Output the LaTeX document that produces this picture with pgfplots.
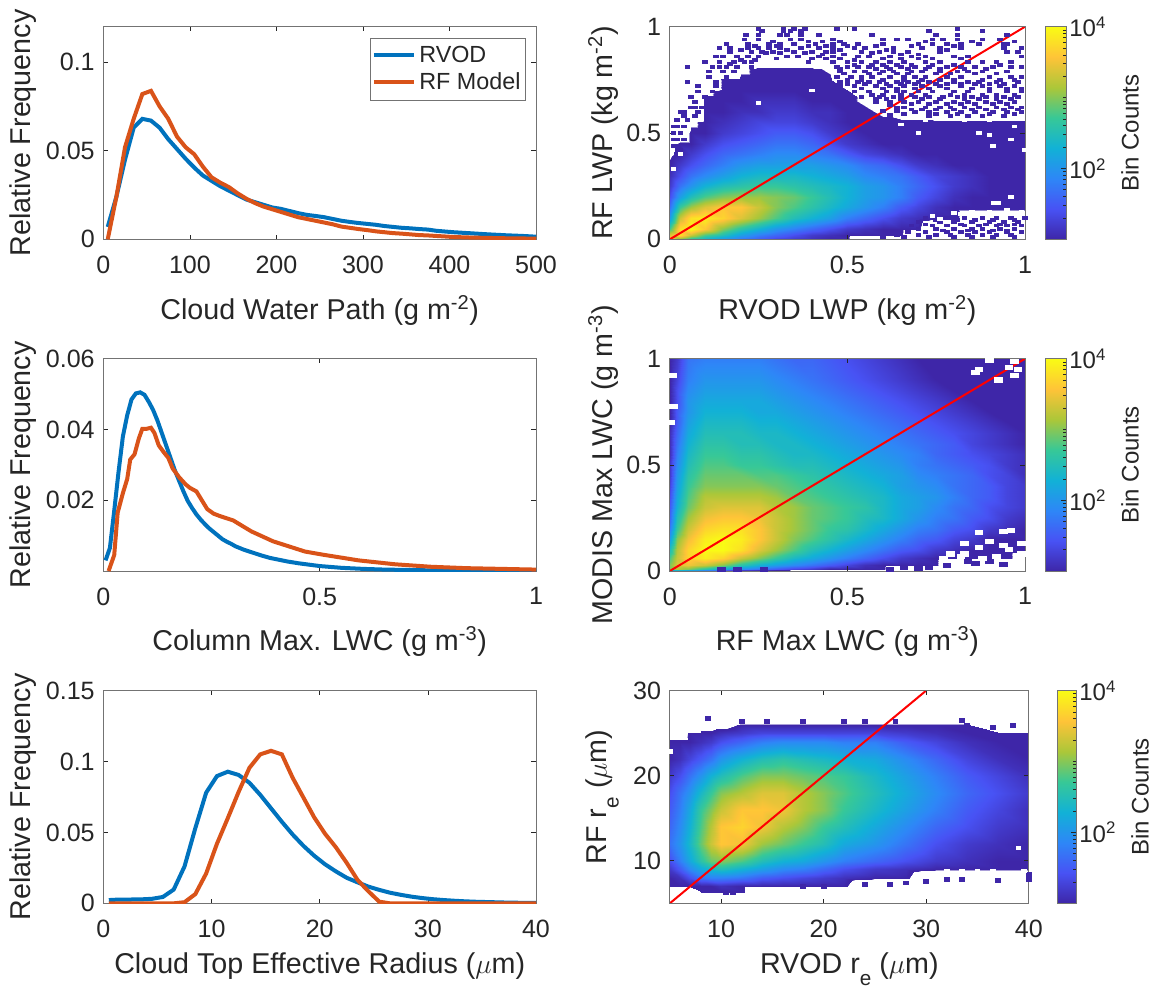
\documentclass[border=0pt]{standalone}
\usepackage{pgfplots}
\pgfplotsset{compat=1.18}
\usepackage{fontspec}
\setmainfont{Liberation Sans}
\definecolor{tc}{gray}{0.15}
\definecolor{ac}{gray}{0.45}
\definecolor{mb}{rgb}{0,0.447,0.741}
\definecolor{mr}{rgb}{0.851,0.325,0.098}
\definecolor{pa}{rgb}{0.2422,0.1504,0.6603}
\pgfplotsset{
 colormap={parw}{rgb(0cm)=(1,1,1); rgb(9.4cm)=(1,1,1); rgb(9.5cm)=(0.2422,0.1504,0.6603); rgb(10cm)=(0.2422,0.1504,0.6603);
  rgb(14.286cm)=(0.2810,0.3228,0.9579); rgb(18.571cm)=(0.1786,0.5289,0.9682); rgb(22.857cm)=(0.0689,0.6948,0.8394);
  rgb(27.143cm)=(0.2161,0.7843,0.5923); rgb(31.429cm)=(0.6720,0.7793,0.2227); rgb(35.714cm)=(0.9970,0.7659,0.2199); rgb(40cm)=(0.9769,0.9839,0.0805)},
 base/.style={scale only axis, axis line style={ac,line width=0.6pt}, tick style={tc,line width=0.5pt}, tick align=inside, major tick length=3.5pt,
  /pgf/number format/assume math mode=true, /pgf/number format/fixed, scaled y ticks=false,
  ticklabel style={font=\fontsize{18.8}{20}\selectfont, text=tc},
  xticklabel style={yshift=-9pt}, yticklabel style={xshift=-3pt},
  label style={font=\fontsize{21.5}{24}\selectfont, text=tc, inner sep=0pt},
  xtick pos=both,ytick pos=both},
 hm/.style={base, colormap name=parw, point meta min=0, point meta max=40, axis on top},
 cbarax/.style={hm,anchor=south west,xmin=0,xmax=1,ymin=10,ymax=10000,xtick=\empty,ytick={100,10000},yticklabels={10\textsuperscript{2},10\textsuperscript{4}},minor ytick={20,30,40,50,60,70,80,90,200,300,400,500,600,700,800,900,1000,2000,3000,4000,5000,6000,7000,8000,9000},ytick pos=right,yticklabel pos=right,yticklabel style={xshift=2pt,font=\fontsize{18}{20}\selectfont},minor tick length=2pt,
 ylabel={Bin Counts},ylabel style={at={(axis description cs:1,0.5)},anchor=center,rotate=0,yshift=-48pt,font=\fontsize{18}{20}\selectfont}},
 xl/.style={xlabel style={at={(axis description cs:0.5,0)},anchor=center,yshift=#1}},
 yl/.style={ylabel style={at={(axis description cs:0,0.5)},anchor=center,yshift=#1}},
 lp/.style={mark=none,line width=3pt,#1},
 sp/.style={pa,only marks,mark=square*,mark size=#1,mark options={draw=pa,fill=pa,line width=0pt,xscale=1.75}},
 wp/.style={white,only marks,mark=square*,mark size=#1,mark options={draw=white,fill=white,line width=0pt,xscale=1.75}},
}
\newcommand\subE{\smash{\raisebox{-0.42em}{\fontsize{15.5}{16}\selectfont e}}}
\begin{document}
\begin{tikzpicture}
\useasboundingbox (0,0) rectangle (863.25pt,739.5pt);
\begin{axis}[base,at={(77.55pt,560pt)},anchor=south west,width=324.45pt,height=159.45pt,
 xmin=0,xmax=500,ymin=0,ymax=0.12,xtick={0,100,200,300,400,500},ytick={0,0.05,0.1},
 yticklabels={0,0.05,0.1},
 xlabel={Cloud Water Path (g m\textsuperscript{-2})},xl=-53pt,
 ylabel={Relative Frequency},yl=60pt,
 legend style={at={(0.9755,0.948)},anchor=north east,draw=ac,font=\fontsize{17.5}{20}\selectfont,text=tc,inner xsep=1pt,inner ysep=4pt,row sep=2.5pt,nodes={inner xsep=2.5pt}},legend cell align=left,
 legend image code/.code={\draw[#1,mark=none](0pt,0pt)--(30pt,0pt);}]
\addplot[lp=mb] coordinates {(5,.007)(15,.024)(25,.045)(35,.063)(45,.068)(55,.067)(65,.063)(75,.0565)(85,.051)(95,.0455)(105,.0405)(115,.036)(125,.033)(135,.03)(145,.0275)(155,.025)(165,.0225)(175,.021)(185,.0195)(195,.018)(205,.0172)(215,.016)(225,.0148)(235,.0138)(245,.0132)(255,.0125)(265,.0115)(275,.0105)(285,.0098)(295,.0092)(305,.0087)(315,.0082)(325,.0075)(335,.007)(345,.0065)(355,.0062)(365,.0058)(375,.0055)(385,.0048)(395,.0044)(405,.004)(425,.0034)(445,.0028)(465,.0023)(485,.0019)(500,.0015)};
\addplot[lp=mr] coordinates {(5,0)(15,.024)(25,.052)(35,.068)(45,.082)(55,.0838)(65,.075)(75,.068)(85,.058)(95,.052)(105,.048)(115,.041)(125,.035)(135,.032)(145,.0295)(155,.026)(165,.023)(175,.0205)(185,.0185)(195,.017)(205,.0155)(215,.014)(225,.0125)(235,.0115)(245,.0105)(255,.0095)(265,.0085)(275,.0072)(285,.0065)(295,.0058)(305,.0052)(315,.0045)(325,.004)(335,.0035)(345,.0032)(355,.0028)(365,.0024)(375,.0022)(385,.0019)(395,.0016)(405,.0013)(425,.001)(445,.0008)(465,.0006)(500,.0004)};
\legend{RVOD,RF Model}
\end{axis}
\begin{axis}[base,at={(77.55pt,311.25pt)},anchor=south west,width=324.45pt,height=159.2pt,
 xmin=0,xmax=1,ymin=0,ymax=0.06,xtick={0,0.5,1},ytick={0.02,0.04,0.06},xticklabels={0,0.5,1},yticklabels={0.02,0.04,0.06},
 xlabel={Column Max. LWC (g m\textsuperscript{-3})},xl=-53pt,
 ylabel={Relative Frequency},yl=60pt]
\addplot[lp=mb] coordinates {(.005,.003)(.015,.0065)(.025,.017)(.035,.028)(.045,.038)(.055,.044)(.065,.0485)(.075,.0502)(.085,.0505)(.095,.0498)(.105,.0478)(.115,.0455)(.125,.0425)(.135,.039)(.145,.0355)(.155,.032)(.165,.0285)(.175,.0255)(.185,.0225)(.195,.0198)(.205,.0178)(.215,.016)(.225,.0145)(.235,.0132)(.245,.012)(.255,.011)(.265,.01)(.275,.009)(.285,.0083)(.295,.0077)(.305,.007)(.325,.006)(.345,.0052)(.365,.0044)(.385,.0037)(.405,.0032)(.425,.0027)(.45,.0022)(.475,.0018)(.5,.0014)(.55,.0009)(.6,.0006)(.65,.0004)(.7,.0003)(.8,.0001)(1,0)};
\addplot[lp=mr] coordinates {(.012,0)(.025,.0045)(.033,.0165)(.045,.022)(.055,.026)(.062,.0315)(.072,.033)(.082,.0375)(.09,.0402)(.1,.0402)(.11,.0405)(.118,.039)(.128,.0355)(.14,.0335)(.15,.032)(.16,.029)(.175,.0265)(.19,.0245)(.2,.0235)(.215,.0225)(.225,.0205)(.24,.0175)(.255,.0162)(.27,.0155)(.3,.0143)(.342,.0112)(.392,.0084)(.466,.0055)(.508,.0046)(.59,.003)(.674,.0019)(.757,.0012)(.84,.0008)(1,.0004)};
\end{axis}
\begin{axis}[base,at={(77.55pt,62pt)},anchor=south west,width=324.45pt,height=159.6pt,
 xmin=0,xmax=40,ymin=0,ymax=0.15,xtick={0,10,20,30,40},ytick={0,0.05,0.1,0.15},yticklabels={0,0.05,0.1,0.15},
 xlabel={Cloud Top Effective Radius ($\mu$m)},xl=-47pt,
 ylabel={Relative Frequency},yl=60pt]
\addplot[lp=mb] coordinates {(.5,.0023)(1.5,.0027)(2.5,.0027)(3.5,.0028)(4.5,.0032)(5.5,.0045)(6.5,.0097)(7.5,.026)(8.5,.053)(9.5,.078)(10.5,.0897)(11.5,.0928)(12.5,.0905)(13.5,.085)(14.5,.0765)(15.5,.067)(16.5,.0575)(17.5,.0485)(18.5,.0405)(19.5,.0335)(20.5,.0275)(21.5,.0225)(22.5,.018)(23.5,.0148)(24.5,.0118)(25.5,.0095)(26.5,.0075)(27.5,.006)(28.5,.0047)(29.5,.0037)(30.5,.0029)(31.5,.0023)(32.5,.0018)(33.5,.0014)(34.5,.0011)(35.5,.0009)(36.5,.0007)(37.5,.0005)(38.5,.0004)(40,.0003)};
\addplot[lp=mr] coordinates {(.5,0)(6.5,0)(7.5,.0008)(8.5,.0065)(9.5,.021)(10.5,.042)(11.5,.06)(12.5,.0785)(13.5,.0955)(14.5,.105)(15.5,.1075)(16.5,.105)(17.5,.0885)(18.5,.0745)(19.5,.0605)(20.5,.049)(21.5,.0395)(22.5,.0285)(23.5,.0165)(24.5,.0085)(25.5,.0012)(26.5,0)(40,0)};
\end{axis}
% ---- panel 2: x,y in 0.01 kg m-2, meta = 10 log10(count)
\begin{axis}[hm,at={(502.35pt,560pt)},anchor=south west,width=266.4pt,height=159.45pt,xmin=0,xmax=100,ymin=0,ymax=100,xtick={0,50,100},xticklabels={0,0.5,1},ytick={0,50,100},yticklabels={0,0.5,1},
 xlabel={RVOD LWP (kg m\textsuperscript{-2})},xl=-53pt,
 ylabel={RF LWP (kg m\textsuperscript{-2})},yl=50pt]
\addplot[surf,shader=interp,mesh/rows=20,point meta=explicit] table[meta=c]{
x y c
0 0 38
3 0 30
6 0 26
10 0 23
15 0 20
20 0 17
25 0 15
30 0 13
35 0 12
40 0 11
45 0 10
50 0 10
55 0 5
60 0 5
65 0 5
70 0 5
75 0 5
80 0 5
85 0 5
90 0 5
95 0 5
100 0 5
0 2 34
3 2 38
6 2 33
10 2 28
15 2 25
20 2 21
25 2 18
30 2 16
35 2 14
40 2 12
45 2 11
50 2 10
55 2 10
60 2 10
65 2 10
70 2 5
75 2 5
80 2 5
85 2 5
90 2 5
95 2 5
100 2 5
0 5 28
3 5 38
6 5 40
10 5 36
15 5 30
20 5 26
25 5 23
30 5 20
35 5 18
40 5 16
45 5 14
50 5 12
55 5 11
60 5 10
65 5 10
70 5 10
75 5 5
80 5 5
85 5 5
90 5 5
95 5 5
100 5 5
0 10 21
3 10 33
6 10 38
10 10 39
15 10 37
20 10 34
25 10 31
30 10 28
35 10 25
40 10 23
45 10 21
50 10 18
55 10 16
60 10 14
65 10 12
70 10 11
75 10 10
80 10 10
85 10 8
90 10 8
95 10 8
100 10 8
0 15 17
3 15 27
6 15 31
10 15 34
15 15 36
20 15 36
25 15 33
30 15 30
35 15 28
40 15 26
45 15 24
50 15 22
55 15 20
60 15 18
65 15 15
70 15 13
75 15 11
80 15 10
85 15 10
90 15 10
95 15 10
100 15 10
0 20 14
3 20 21
6 20 25
10 20 28
15 20 30
20 20 31
25 20 31
30 20 30
35 20 29
40 20 27
45 20 25
50 20 23
55 20 21
60 20 20
65 20 18
70 20 15
75 20 13
80 20 11
85 20 10
90 20 10
95 20 10
100 20 10
0 25 12
3 25 17
6 25 20
10 25 23
15 25 25
20 25 26
25 25 27
30 25 27
35 25 26
40 25 25
45 25 24
50 25 23
55 25 21
60 25 20
65 25 18
70 25 16
75 25 14
80 25 12
85 25 11
90 25 10
95 25 10
100 25 10
0 30 11
3 30 14
6 30 17
10 30 19
15 30 21
20 30 23
25 30 24
30 30 24
35 30 24
40 30 23
45 30 22
50 30 21
55 30 19
60 30 18
65 30 17
70 30 15
75 30 13
80 30 12
85 30 11
90 30 10
95 30 10
100 30 10
0 35 10
3 35 12
6 35 14
10 35 16
15 35 18
20 35 20
25 35 21
30 35 21
35 35 21
40 35 21
45 35 20
50 35 19
55 35 17
60 35 16
65 35 14
70 35 12
75 35 11
80 35 10
85 35 10
90 35 10
95 35 10
100 35 10
0 40 9
3 40 10
6 40 12
10 40 14
15 40 16
20 40 17
25 40 18
30 40 19
35 40 19
40 40 18
45 40 17
50 40 15
55 40 13
60 40 12
65 40 11
70 40 10
75 40 10
80 40 10
85 40 10
90 40 10
95 40 10
100 40 10
0 45 9
3 45 10
6 45 10
10 45 12
15 45 14
20 45 15
25 45 16
30 45 17
35 45 17
40 45 16
45 45 14
50 45 12
55 45 11
60 45 10
65 45 10
70 45 10
75 45 10
80 45 10
85 45 10
90 45 10
95 45 10
100 45 10
0 50 5
3 50 7
6 50 10
10 50 10
15 50 12
20 50 13
25 50 14
30 50 15
35 50 15
40 50 14
45 50 12
50 50 11
55 50 10
60 50 10
65 50 10
70 50 10
75 50 10
80 50 10
85 50 10
90 50 10
95 50 10
100 50 10
0 55 5
3 55 5
6 55 9
10 55 10
15 55 11
20 55 12
25 55 13
30 55 13
35 55 13
40 55 12
45 55 11
50 55 10
55 55 10
60 55 10
65 55 10
70 55 10
75 55 10
80 55 10
85 55 10
90 55 10
95 55 10
100 55 10
0 60 5
3 60 5
6 60 5
10 60 10
15 60 10
20 60 11
25 60 11
30 60 12
35 60 12
40 60 11
45 60 11
50 60 10
55 60 10
60 60 9
65 60 8
70 60 8
75 60 5
80 60 5
85 60 5
90 60 5
95 60 5
100 60 5
0 65 5
3 65 5
6 65 5
10 65 10
15 65 10
20 65 10
25 65 11
30 65 11
35 65 11
40 65 10
45 65 10
50 65 10
55 65 9
60 65 5
65 65 5
70 65 5
75 65 5
80 65 5
85 65 5
90 65 5
95 65 5
100 65 5
0 70 5
3 70 5
6 70 5
10 70 9
15 70 10
20 70 10
25 70 10
30 70 10
35 70 10
40 70 10
45 70 10
50 70 10
55 70 5
60 70 5
65 70 5
70 70 5
75 70 5
80 70 5
85 70 5
90 70 5
95 70 5
100 70 5
0 75 5
3 75 5
6 75 5
10 75 5
15 75 10
20 75 10
25 75 10
30 75 10
35 75 10
40 75 10
45 75 10
50 75 5
55 75 5
60 75 5
65 75 5
70 75 5
75 75 5
80 75 5
85 75 5
90 75 5
95 75 5
100 75 5
0 80 5
3 80 5
6 80 5
10 80 5
15 80 5
20 80 9
25 80 10
30 80 10
35 80 10
40 80 10
45 80 9
50 80 5
55 80 5
60 80 5
65 80 5
70 80 5
75 80 5
80 80 5
85 80 5
90 80 5
95 80 5
100 80 5
0 85 5
3 85 5
6 85 5
10 85 5
15 85 5
20 85 5
25 85 5
30 85 5
35 85 5
40 85 5
45 85 5
50 85 5
55 85 5
60 85 5
65 85 5
70 85 5
75 85 5
80 85 5
85 85 5
90 85 5
95 85 5
100 85 5
0 100 5
3 100 5
6 100 5
10 100 5
15 100 5
20 100 5
25 100 5
30 100 5
35 100 5
40 100 5
45 100 5
50 100 5
55 100 5
60 100 5
65 100 5
70 100 5
75 100 5
80 100 5
85 100 5
90 100 5
95 100 5
100 100 5
};
\addplot[sp=1pt] coordinates {(25,99)(32,99)(35,99)(38,99)(47,99)(52,99)(81,99)
(26,98)(32,98)(34,98)(37,98)(73,98)(88,98)
(21.5,96)(25,96)(31,96)(33,96)(37,96)(42,96)(57,96)(75,96)(81,96)(95,96)
(21,94)(25,94)(34,94)(37,94)(46,94)(60,94)(64,94)(67,94)(74,94)(77,94)(81,94)(88,94)(93,94)
(16,92)(22,92)(28,92)(31,92)(35,92)(41,92)(46,92)(49,92)(53,92)(60,92)(70,92)(74,92)(78,92)(82,92)(87,92)(94,92)(95,92)
(14,90)(17,90)(22,90)(25,90)(28,90)(31,90)(37,90)(42,90)(46,90)(52,90)(55,90)(63,90)(71,90)(76,90)(82,90)(94,90)(99,90)
(17,88)(23,88)(26,88)(29,88)(35,88)(40,88)(44,88)(46,88)(54,88)(59,88)(63,88)(67,88)(76,88)(95,88)(98,88)
(13,86)(15,86)(19,86)(22,86)(25,86)(36,86)(42,86)(46,86)(53,86)(56,86)(62,86)(68,86)(72,86)(80,86)(84,86)(99,86)
(10,83.5)(14,83.5)(18,83.5)(21,83.5)(23,83.5)(39,83.5)(46,83.5)(50,83.5)(54,83.5)(58,83.5)(62,83.5)(66,83.5)(72,83.5)(76,83.5)(84,83.5)(88,83.5)(92,83.5)(96,83.5)
(5,81)(14,81)(16,81)(19,81)(23,81)(47,81)(50,81)(53,81)(56,81)(61,81)(65,81)(69,81)(73,81)(78,81)(82,81)(86,81)(91,81)(96,81)(99,81)
(11,79)(15,79)(18,79)(48,79)(52,79)(55,79)(60,79)(63,79)(68,79)(71,79)(76,79)(81,79)(84,79)(88,79)(95,79)
(11,76.5)(16,76.5)(47,76.5)(51,76.5)(54,76.5)(57,76.5)(62,76.5)(66,76.5)(69,76.5)(72,76.5)(78,76.5)(82,76.5)(90,76.5)(96,76.5)(99,76.5)
(5,74)(13,74)(48,74)(53,74)(56,74)(59,74)(64,74)(67,74)(70,74)(73,74)(80,74)(84,74)(87,74)(92,74)(98,74)
(8,72)(13,72)(16,72)(48,72)(52,72)(58,72)(62,72)(66,72)(71,72)(76,72)(82,72)(88,72)(93,72)(97,72)
(8,69.5)(12,69.5)(52,69.5)(56,69.5)(61,69.5)(64,69.5)(66,69.5)(70,69.5)(74,69.5)(80,69.5)(84,69.5)(90,69.5)(95,69.5)(99,69.5)
(6,67)(10,67)(54,67)(59,67)(63,67)(69,67)(73,67)(77,67)(81,67)(85,67)(89,67)(94,67)(98,67)
(7,64.7)(11,64.7)(58,64.7)(62,64.7)(66,64.7)(70,64.7)(75,64.7)(80,64.7)(84,64.7)(89,64.7)(93,64.7)(97,64.7)
(7,62)(9,62)(64,62)(66,62)(72,62)(76,62)(79,62)(83,62)(87,62)(92,62)(96,62)(99,62)
(3,60)(4,60)(8,60)(69,60)(73,60)(78,60)(82,60)(86,60)(91,60)(95,60)(99,60)
(4,58)(7,58)(73,58)(79,58)(84,58)(88,58)(94,58)
(62,58.5)(66,59)(75,59)(81,59)(90,59)(97,59)(60,60.5)(64,60.5)(68,61)(71,61)(75,61)(80,61)(85,61)(89,61)(94,61)(98,61)
(62,63)(68,63.5)(73,63.5)(78,63.5)(82,63.5)(86,63.5)(91,63.5)(95,63.5)(58,66)(61,66)(65,66)(71,66)(76,66)(83,66)(87,66)(92,66)(96,66)
(57,68)(60,68)(65,68)(68,68)(72,68)(79,68)(83,68)(88,68)(92,68)(97,68)(54,71)(60,71)(64,71)(69,71)(73,71)(78,71)(85,71)(90,71)(95,71)(99,71)
(50,73)(55,73)(61,73)(65,73)(69,73)(75,73)(78,73)(82,73)(86,73)(90,73)(94,73)(50,75)(54,75)(60,75)(66,75)(71,75)(76,75)(80,75)(88,75)(93,75)(97,75)
(49,78)(56,78)(59,78)(64,78)(67,78)(75,78)(79,78)(86,78)(92,78)(48,80)(58,80)(62,80)(67,80)(72,80)(76,80)(83,80)(89,80)(52,82)(57,82)(60,82)(64,82)(68,82)(74,82)(80,82)(93,82)
(12,81)(17,82.5)(20,84.5)(24,84.5)(30,85)(33,86)(40,85)(44,85)(48,85)(52,84.5)(60,85)(65,85)(70,85)(74,85)(82,85)(27,87.5)(31,87.5)(38,87.5)(43,87)(49,87)(57,87.5)(65,87)(70,87)(20,89)(33,89)(48,89)(61,89)(78,89)(24,91)(30,91)(39,91)(44,91)(50,91)(58,91)(68,91)(80,91)(29,93)(39,93)(43,93)(48,93)(72,93)(85,93)(97,93)
(1,53)(2,53)(4,53)(1,50)(3,50)(1,47)(2,47)(4,47)(1,44)(3,42)(2,40)(5,56)(2,56)(6,62)
(72,10)(78,10)(83,10)(88,10)(92,10)(96,10)(100,10)(75,9)(81,9)(86,9)(91,9)(97,9)
(70,8)(76,8)(80,8)(85,8)(90,8)(94,8)(98,8)(72,7)(82,7)(89,7)(93,7)(97,7)
(68,6.5)(74,6.5)(78,6.5)(83,6.5)(87,6.5)(92,6.5)(95,6.5)(99,6.5)
(70,5)(75,5)(80,5)(85,5)(88,5)(93,5)(97,5)(77,4.2)(84,4.2)(91,4.2)(95,4.2)
(67,3.5)(72,3.5)(78,3.5)(82,3.5)(86,3.5)(90,3.5)(95,3.5)(99,3.5)
(64,2)(70,2)(75,2)(79,2)(84,2)(88,2)(92,2)(96,2)
(60,1)(66,1)(73,1)(80,1)(85,1)(91,1)(97,1)};
\addplot[wp=1pt] coordinates {(70,50)(87,50)(90,49)(96,47)(91,44)(100,42)(96,20)(92.5,17)(91.2,17)(85,13)(90,13)(95,14)(99,13)(82,12)(92,12)(65,54)(72,56)(83,56)(90,56)(97,53)(40,70)(25,64)(3,40)(1,33)(80,12.5)(76,9.5)(74,11)};
\addplot[red,line width=1.5pt] coordinates {(0,0)(100,100)};
\end{axis}
\begin{axis}[cbarax,ymode=log,at={(783.75pt,560pt)},width=15.75pt,height=159.45pt]
\addplot[surf,shader=interp,mesh/rows=2,point meta=explicit] table[meta=c]{
x y c
0 10 10
1 10 10
0 10000 40
1 10000 40
};
\end{axis}
% ---- panel 4
\begin{axis}[hm,at={(502.35pt,311.25pt)},anchor=south west,width=266.4pt,height=159.2pt,xmin=0,xmax=100,ymin=0,ymax=100,xtick={0,50,100},xticklabels={0,0.5,1},ytick={0,50,100},yticklabels={0,0.5,1},
 xlabel={RF Max LWC (g m\textsuperscript{-3})},xl=-53pt,
 ylabel={MODIS Max LWC (g m\textsuperscript{-3})},yl=50pt]
\addplot[surf,shader=interp,mesh/rows=22,point meta=explicit] table[meta=c]{
x y c
0 0 20
2 0 16
5 0 14
10 0 12
15 0 10
20 0 5
25 0 5
30 0 5
35 0 5
40 0 5
45 0 5
50 0 5
55 0 5
60 0 5
65 0 5
70 0 5
75 0 5
80 0 5
85 0 5
90 0 5
95 0 5
100 0 5
0 1 30
2 1 32
5 1 30
10 1 26
15 1 22
20 1 19
25 1 17
30 1 15
35 1 13
40 1 12
45 1 10
50 1 10
55 1 10
60 1 10
65 1 5
70 1 5
75 1 5
80 1 5
85 1 5
90 1 5
95 1 5
100 1 5
0 3 30
2 3 34
5 3 35
10 3 33
15 3 30
20 3 26
25 3 23
30 3 21
35 3 19
40 3 17
45 3 15
50 3 13
55 3 11
60 3 10
65 3 10
70 3 10
75 3 10
80 3 5
85 3 5
90 3 5
95 3 5
100 3 5
0 6 28
2 6 33
5 6 37
10 6 39
15 6 37
20 6 33
25 6 30
30 6 27
35 6 24
40 6 22
45 6 20
50 6 18
55 6 16
60 6 14
65 6 12
70 6 11
75 6 10
80 6 10
85 6 10
90 6 10
95 6 10
100 6 8
0 10 25
2 10 32
5 10 37
10 10 40
15 10 40
20 10 38
25 10 34
30 10 31
35 10 28
40 10 25
45 10 23
50 10 21
55 10 19
60 10 17
65 10 15
70 10 14
75 10 12
80 10 11
85 10 10
90 10 10
95 10 10
100 10 10
0 15 21
2 15 30
5 15 35
10 15 39
15 15 40
20 15 39
25 15 36
30 15 33
35 15 30
40 15 28
45 15 26
50 15 24
55 15 22
60 15 20
65 15 18
70 15 16
75 15 15
80 15 13
85 15 12
90 15 10
95 15 10
100 15 10
0 20 18
2 20 27
5 20 33
10 20 37
15 20 38
20 20 38
25 20 36
30 20 33
35 20 31
40 20 29
45 20 27
50 20 26
55 20 24
60 20 22
65 20 20
70 20 18
75 20 17
80 20 15
85 20 14
90 20 12
95 20 11
100 20 10
0 25 16
2 25 25
5 25 31
10 25 35
15 25 36
20 25 36
25 25 35
30 25 33
35 25 31
40 25 29
45 25 28
50 25 27
55 25 25
60 25 24
65 25 22
70 25 20
75 25 18
80 25 17
85 25 15
90 25 14
95 25 12
100 25 11
0 30 15
2 30 23
5 30 29
10 30 33
15 30 34
20 30 34
25 30 34
30 30 32
35 30 31
40 30 29
45 30 28
50 30 27
55 30 26
60 30 24
65 30 22
70 30 21
75 30 19
80 30 17
85 30 16
90 30 14
95 30 13
100 30 12
0 35 14
2 35 22
5 35 28
10 35 32
15 35 32
20 35 32
25 35 32
30 35 31
35 35 29
40 35 28
45 35 27
50 35 26
55 35 25
60 35 24
65 35 22
70 35 21
75 35 20
80 35 18
85 35 16
90 35 15
95 35 13
100 35 12
0 40 13
2 40 21
5 40 27
10 40 30
15 40 30
20 40 30
25 40 30
30 40 29
35 40 28
40 40 27
45 40 26
50 40 25
55 40 24
60 40 23
65 40 21
70 40 20
75 40 19
80 40 17
85 40 16
90 40 15
95 40 13
100 40 12
0 45 12
2 45 20
5 45 26
10 45 29
15 45 29
20 45 29
25 45 28
30 45 28
35 45 27
40 45 26
45 45 25
50 45 24
55 45 23
60 45 22
65 45 21
70 45 19
75 45 18
80 45 17
85 45 16
90 45 14
95 45 13
100 45 11
0 50 12
2 50 19
5 50 25
10 50 28
15 50 28
20 50 27
25 50 27
30 50 26
35 50 25
40 50 25
45 50 24
50 50 23
55 50 22
60 50 21
65 50 20
70 50 18
75 50 17
80 50 16
85 50 15
90 50 14
95 50 12
100 50 11
0 55 11
2 55 18
5 55 24
10 55 27
15 55 27
20 55 26
25 55 26
30 55 25
35 55 24
40 55 24
45 55 23
50 55 22
55 55 21
60 55 20
65 55 19
70 55 18
75 55 16
80 55 15
85 55 14
90 55 13
95 55 12
100 55 11
0 60 11
2 60 17
5 60 23
10 60 26
15 60 26
20 60 25
25 60 25
30 60 24
35 60 24
40 60 23
45 60 22
50 60 21
55 60 20
60 60 19
65 60 18
70 60 17
75 60 16
80 60 15
85 60 13
90 60 12
95 60 11
100 60 10
0 65 11
2 65 16
5 65 22
10 65 25
15 65 25
20 65 25
25 65 24
30 65 24
35 65 23
40 65 22
45 65 21
50 65 20
55 65 19
60 65 18
65 65 17
70 65 16
75 65 15
80 65 14
85 65 13
90 65 12
95 65 11
100 65 10
0 70 10
2 70 15
5 70 21
10 70 24
15 70 24
20 70 24
25 70 23
30 70 23
35 70 22
40 70 21
45 70 20
50 70 19
55 70 18
60 70 17
65 70 16
70 70 15
75 70 14
80 70 13
85 70 12
90 70 11
95 70 10
100 70 10
0 75 10
2 75 15
5 75 20
10 75 23
15 75 23
20 75 23
25 75 22
30 75 22
35 75 21
40 75 20
45 75 19
50 75 18
55 75 17
60 75 16
65 75 15
70 75 14
75 75 13
80 75 12
85 75 11
90 75 10
95 75 10
100 75 10
0 80 10
2 80 14
5 80 20
10 80 22
15 80 22
20 80 22
25 80 22
30 80 21
35 80 20
40 80 19
45 80 18
50 80 17
55 80 16
60 80 15
65 80 14
70 80 13
75 80 12
80 80 11
85 80 10
90 80 10
95 80 10
100 80 10
0 85 10
2 85 14
5 85 19
10 85 21
15 85 21
20 85 21
25 85 21
30 85 20
35 85 19
40 85 18
45 85 17
50 85 16
55 85 15
60 85 14
65 85 13
70 85 12
75 85 11
80 85 10
85 85 10
90 85 10
95 85 10
100 85 10
0 90 10
2 90 13
5 90 18
10 90 20
15 90 20
20 90 20
25 90 20
30 90 19
35 90 18
40 90 17
45 90 16
50 90 15
55 90 14
60 90 13
65 90 12
70 90 11
75 90 10
80 90 10
85 90 10
90 90 10
95 90 10
100 90 10
0 100 10
2 100 12
5 100 17
10 100 18
15 100 18
20 100 18
25 100 18
30 100 17
35 100 16
40 100 16
45 100 15
50 100 14
55 100 13
60 100 12
65 100 11
70 100 10
75 100 10
80 100 10
85 100 10
90 100 10
95 100 10
100 100 10
};
\addplot[sp=1.6pt] coordinates {(84,4.5)(86,3.5)(90,4.5)(73,1.7)(78,2.5)(66,1.5)(70,1.2)(94,3.2)(62,0.8)(14.5,0.6)(19,0.6)(26.5,0.6)};
\addplot[wp=1.6pt] coordinates {(77,6)(79,8)(82,7)(83,13)(87,11)(90,14)(94,12)(95.5,10)(99,13)(99,8)(87,18)(94,18.5)(96,19)(83,8)(88,6)(92,7)(98,6)(86,93.5)(87,95)(92.5,90)(90,99)(97,98.7)(98,95)(97,92)(95.5,96)(0.7,92)(1,77.5)(0.2,70)};
\addplot[red,line width=1.5pt] coordinates {(0,0)(100,100)};
\end{axis}
\begin{axis}[cbarax,ymode=log,at={(783.75pt,311.25pt)},width=15.75pt,height=159.2pt]
\addplot[surf,shader=interp,mesh/rows=2,point meta=explicit] table[meta=c]{
x y c
0 10 10
1 10 10
0 10000 40
1 10000 40
};
\end{axis}
% ---- panel 6
\begin{axis}[hm,at={(502.35pt,62pt)},anchor=south west,width=269.25pt,height=159.6pt,xmin=5,xmax=40,ymin=5,ymax=30,xtick={10,20,30,40},ytick={10,20,30},
 xlabel={RVOD r\subE{} ($\mu$m)},xl=-47pt,
 ylabel={RF r\subE{} ($\mu$m)},yl=53pt]
\addplot[surf,shader=interp,mesh/rows=17,point meta=explicit] table[meta=c]{
x y c
5 5 5
6 5 5
7 5 5
8 5 5
9 5 5
10 5 5
12 5 5
14 5 5
16 5 5
18 5 5
20 5 5
22 5 5
25 5 5
28 5 5
31 5 5
34 5 5
37 5 5
40 5 5
5 6.5 5
6 6.5 5
7 6.5 5
8 6.5 10
9 6.5 10
10 6.5 10
12 6.5 10
14 6.5 5
16 6.5 5
18 6.5 5
20 6.5 5
22 6.5 5
25 6.5 5
28 6.5 5
31 6.5 5
34 6.5 5
37 6.5 5
40 6.5 5
5 7 10
6 7 10
7 7 10
8 7 10
9 7 10
10 7 11
12 7 10
14 7 10
16 7 10
18 7 10
20 7 10
22 7 10
25 7 5
28 7 5
31 7 5
34 7 5
37 7 5
40 7 5
5 8 10
6 8 11
7 8 14
8 8 17
9 8 18
10 8 18
12 8 17
14 8 15
16 8 14
18 8 13
20 8 12
22 8 11
25 8 10
28 8 10
31 8 5
34 8 5
37 8 5
40 8 5
5 9 12
6 9 15
7 9 19
8 9 22
9 9 24
10 9 25
12 9 23
14 9 21
16 9 19
18 9 18
20 9 16
22 9 14
25 9 12
28 9 11
31 9 10
34 9 10
37 9 10
40 9 10
5 10 14
6 10 18
7 10 22
8 10 26
9 10 29
10 10 30
12 10 28
14 10 25
16 10 23
18 10 22
20 10 20
22 10 18
25 10 16
28 10 14
31 10 12
34 10 11
37 10 10
40 10 10
5 12 17
6 12 20
7 12 24
8 12 29
9 12 33
10 12 36
12 12 35
14 12 31
16 12 29
18 12 27
20 12 25
22 12 22
25 12 20
28 12 17
31 12 14
34 12 12
37 12 11
40 12 10
5 14 16
6 14 19
7 14 23
8 14 28
9 14 32
10 14 36
12 14 37
14 14 35
16 14 32
18 14 30
20 14 27
22 14 25
25 14 22
28 14 19
31 14 16
34 14 14
37 14 12
40 14 11
5 16 15
6 16 18
7 16 22
8 16 27
9 16 30
10 16 33
12 16 36
14 16 36
16 16 35
18 16 32
20 16 30
22 16 27
25 16 24
28 16 21
31 16 18
34 16 15
37 16 13
40 16 11
5 18 14
6 18 17
7 18 20
8 18 24
9 18 27
10 18 30
12 18 32
14 18 34
16 18 34
18 18 32
20 18 30
22 18 28
25 18 25
28 18 22
31 18 19
34 18 16
37 18 14
40 18 12
5 20 12
6 20 14
7 20 17
8 20 20
9 20 23
10 20 25
12 20 28
14 20 30
16 20 30
18 20 29
20 20 28
22 20 27
25 20 24
28 20 21
31 20 18
34 20 15
37 20 13
40 20 11
5 22 10
6 22 11
7 22 13
8 22 15
9 22 17
10 22 20
12 22 23
14 22 25
16 22 26
18 22 25
20 22 24
22 22 23
25 22 22
28 22 19
31 22 16
34 22 13
37 22 11
40 22 10
5 24 10
6 24 10
7 24 10
8 24 11
9 24 12
10 24 14
12 24 16
14 24 18
16 24 19
18 24 19
20 24 19
22 24 18
25 24 18
28 24 15
31 24 13
34 24 11
37 24 10
40 24 10
5 25 8
6 25 8
7 25 10
8 25 10
9 25 10
10 25 11
12 25 12
14 25 13
16 25 13
18 25 13
20 25 13
22 25 13
25 25 13
28 25 12
31 25 11
34 25 10
37 25 10
40 25 10
5 26 5
6 26 5
7 26 5
8 26 8
9 26 8
10 26 8
12 26 10
14 26 10
16 26 10
18 26 10
20 26 10
22 26 10
25 26 10
28 26 10
31 26 10
34 26 10
37 26 5
40 26 5
5 27 5
6 27 5
7 27 5
8 27 5
9 27 5
10 27 5
12 27 5
14 27 5
16 27 5
18 27 5
20 27 5
22 27 5
25 27 5
28 27 5
31 27 5
34 27 5
37 27 5
40 27 5
5 30 5
6 30 5
7 30 5
8 30 5
9 30 5
10 30 5
12 30 5
14 30 5
16 30 5
18 30 5
20 30 5
22 30 5
25 30 5
28 30 5
31 30 5
34 30 5
37 30 5
40 30 5
};
\addplot[pa,only marks,mark=square*,mark size=1.4pt,mark options={draw=pa,fill=pa,line width=0pt,xscale=1.3}] coordinates {(8.7,26.7)(12,26.4)(14.5,26.4)(18,26.4)(22,26.4)(24,26.4)(27,26.4)(33.5,26.5)(38.5,25.9)(36.5,25.7)(34,25.9)(37,7.7)(40,7.8)(40,8.4)(26.5,7.2)(28,7.4)(30,7.6)(32,7.8)(33.5,7.8)(10.5,6.2)(11.2,6.2)(18,7)(20,7)(24,7.2)};
\addplot[white,only marks,mark=square*,mark size=1.4pt,mark options={draw=white,fill=white,line width=0pt,xscale=1.3}] coordinates {(39,11.5)(5,22.8)(32,8.8)(33.5,8.8)(35,8.8)(36.5,8.7)(30.5,8.5)(39.5,8.8)};
\addplot[red,line width=1.5pt] coordinates {(5,5)(30,30)};
\end{axis}
\begin{axis}[cbarax,ymode=log,at={(792.75pt,62pt)},width=14.25pt,height=159.6pt]
\addplot[surf,shader=interp,mesh/rows=2,point meta=explicit] table[meta=c]{
x y c
0 10 10
1 10 10
0 10000 40
1 10000 40
};
\end{axis}
\end{tikzpicture}
\end{document}
